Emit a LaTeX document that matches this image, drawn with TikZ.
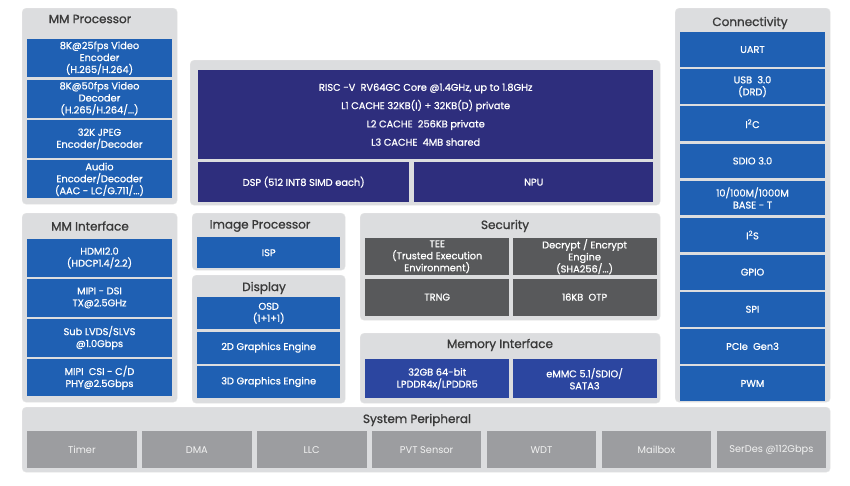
\documentclass[tikz,border=0pt]{standalone}
\usepackage{fontspec}
\setmainfont{Poppins}
\newfontfamily\boxfont{Poppins}[FakeBold=0.9]
\newfontfamily\headfont{Poppins}[FakeBold=1.1]
\usepackage{tikz}
\usetikzlibrary{positioning}
\definecolor{panelgray}{HTML}{DCDDDF}
\definecolor{mmblue}{HTML}{1F60B3}
\definecolor{cpunavy}{HTML}{2E2E7D}
\definecolor{memnavy}{HTML}{2C46A0}
\definecolor{secgray}{HTML}{58595B}
\definecolor{perigray}{HTML}{9C9DA0}
\definecolor{headtext}{HTML}{3A3A3A}
\tikzset{
  panel/.style={fill=panelgray, draw=black!10, rounded corners=4pt, anchor=north west, inner sep=0pt},
  panelhead/.style={text=headtext, font=\headfont\fontsize{12}{14}\selectfont, inner sep=0pt},
  block/.style={fill=mmblue, text=white, align=center, inner sep=0pt, minimum width=145pt, minimum height=38pt, font=\boxfont\fontsize{9.8}{12}\selectfont},
  cpublock/.style={block, fill=cpunavy},
  memblock/.style={block, fill=memnavy, minimum width=144pt, minimum height=39pt},
  secblock/.style={block, fill=secgray, minimum width=144pt, minimum height=37pt},
  periblock/.style={block, fill=perigray, text=white!95!black, minimum width=109.5pt, minimum height=37pt, font=\fontsize{9.8}{12}\selectfont},
  conblock/.style={block, minimum height=34.7pt}
}

\begin{document}
\begin{tikzpicture}[x=1pt, y=-1pt, node distance=2pt]
\useasboundingbox[fill=white] (0,0) rectangle (850,485);
% panels
\node[panel, minimum width=155pt, minimum height=196pt] (mmproc) at (22,8) {};
\node[panel, minimum width=155pt, minimum height=189pt] (mmif) at (22,213) {};
\node[panel, minimum width=470pt, minimum height=145pt] (cpu) at (190,60) {};
\node[panel, minimum width=153pt, minimum height=57pt] (imgproc) at (192,213) {};
\node[panel, minimum width=153pt, minimum height=128pt] (disp) at (192,275) {};
\node[panel, minimum width=300pt, minimum height=107pt] (sec) at (360,213) {};
\node[panel, minimum width=300pt, minimum height=70pt] (mem) at (360,333) {};
\node[panel, minimum width=155pt, minimum height=394pt] (conn) at (675,8) {};
\node[panel, minimum width=808pt, minimum height=65pt] (sysperi) at (22,407) {};

% MM Processor
\node[panelhead] (mmproct) at (90,19) {MM Processor};
\node[block, anchor=north] (venc) at (99.5,39) {8K@25fps Video\\Encoder\\(H.265/H.264)};
\node[block, below=of venc] (vdec) {8K@50fps Video\\Decoder\\(H.265/H.264/...)};
\node[block, below=of vdec] (jpeg) {32K JPEG\\Encoder/Decoder};
\node[block, below=of jpeg] (audio) {Audio\\Encoder/Decoder\\(AAC - LC/G.711/...)};

% MM Interface
\node[panelhead] (mmift) at (90,226) {MM Interface};
\node[block, anchor=north, minimum height=37.5pt] (hdmi) at (99.5,239) {HDMI2.0\\(HDCP1.4/2.2)};
\node[block, below=of hdmi, minimum height=37.5pt] (dsi) {MIPI - DSI\\TX@2.5GHz};
\node[block, below=of dsi, minimum height=37.5pt] (lvds) {Sub LVDS/SLVS\\@1.0Gbps};
\node[block, below=of lvds, minimum height=37.5pt] (csi) {MIPI~~CSI - C/D\\PHY@2.5Gbps};

% CPU cluster
\node[cpublock, anchor=north west, minimum width=455pt, minimum height=89pt, font=\boxfont\fontsize{9.8}{18.3}\selectfont] (core) at (198,70)
  {RISC -V~~RV64GC Core @1.4GHz, up to 1.8GHz\\L1 CACHE 32KB(I) + 32KB(D) private\\L2 CACHE~~256KB private\\L3 CACHE~~4MB shared};
\node[cpublock, anchor=north west, minimum width=211pt, minimum height=40pt] (dsp) at (198,162) {DSP (512 INT8 SIMD each)};
\node[cpublock, anchor=north west, minimum width=239pt, minimum height=40pt] (npu) at (414,162) {NPU};

% Image Processor
\node[panelhead] (imgproct) at (260,226) {Image Processor};
\node[block, anchor=north west, minimum width=143pt, minimum height=31pt] (isp) at (197,237) {ISP};

% Display
\node[panelhead] (dispt) at (264,288) {Display};
\node[block, anchor=north west, minimum width=143pt, minimum height=32pt] (osd) at (197,297) {OSD\\(1+1+1)};
\node[block, below=of osd, minimum width=143pt, minimum height=32pt] (gfx2d) {2D Graphics Engine};
\node[block, below=of gfx2d, minimum width=143pt, minimum height=32pt] (gfx3d) {3D Graphics Engine};

% Security
\node[panelhead] (sect) at (505,226) {Security};
\node[secblock, anchor=north west] (tee) at (365,238) {TEE\\(Trusted Execution\\Environment)};
\node[secblock, right=3pt of tee] (crypt) {Decrypt / Encrypt\\Engine\\(SHA256/...)};
\node[secblock, below=3pt of tee] (trng) {TRNG};
\node[secblock, below=3pt of crypt] (otp) {16KB~~OTP};

% Memory Interface
\node[panelhead] (memt) at (500,345) {Memory Interface};
\node[memblock, anchor=north west] (ddr) at (365,359) {32GB 64-bit\\LPDDR4x/LPDDR5};
\node[memblock, right=3pt of ddr] (emmc) {eMMC 5.1/SDIO/\\SATA3};

% Connectivity
\node[panelhead] (connt) at (750,23) {Connectivity};
\node[conblock, anchor=north] (uart) at (752.5,32) {UART};
\node[conblock, below=of uart] (usb) {USB~~3.0\\(DRD)};
\node[conblock, below=of usb] (i2c) {I\textsuperscript{2}C};
\node[conblock, below=of i2c] (sdio) {SDIO 3.0};
\node[conblock, below=of sdio] (eth) {10/100M/1000M\\BASE - T};
\node[conblock, below=of eth] (i2s) {I\textsuperscript{2}S};
\node[conblock, below=of i2s] (gpio) {GPIO};
\node[conblock, below=of gpio] (spi) {SPI};
\node[conblock, below=of spi] (pcie) {PCIe~~Gen3};
\node[conblock, below=of pcie] (pwm) {PWM};

% System Peripheral
\node[panelhead] (sysperit) at (417,420) {System Peripheral};
\node[periblock, anchor=north west] (timer) at (27,431) {Timer};
\node[periblock, right=5pt of timer] (dma) {DMA};
\node[periblock, right=5pt of dma] (llc) {LLC};
\node[periblock, right=5pt of llc] (pvt) {PVT Sensor};
\node[periblock, right=5pt of pvt] (wdt) {WDT};
\node[periblock, right=5pt of wdt] (mailbox) {Mailbox};
\node[periblock, right=5pt of mailbox] (serdes) {SerDes @112Gbps};
\end{tikzpicture}
\end{document}
